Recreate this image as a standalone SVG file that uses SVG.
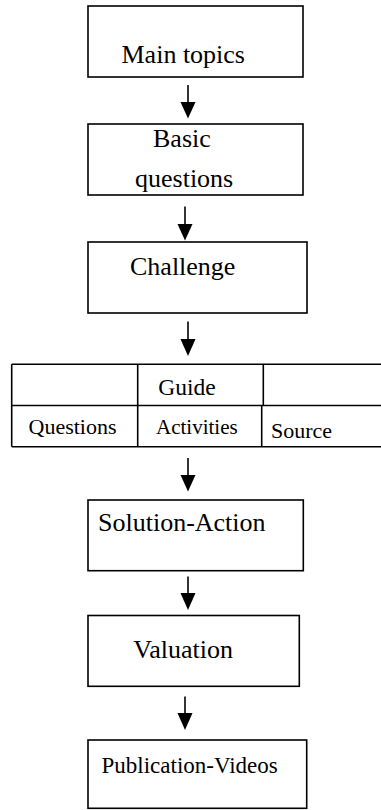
<svg xmlns="http://www.w3.org/2000/svg" width="381" height="810" viewBox="0 0 381 810">
<defs>
<style>
.box{fill:#fff;stroke:#000;stroke-width:1.6}
.t{font-family:"Liberation Serif","Times New Roman",serif;fill:#000}
.c{stroke:#000;stroke-width:1.6;fill:none}
.cell{fill:none;stroke:#000;stroke-width:1.6}
.ah{fill:#000}
</style>
</defs>
<rect width="381" height="810" fill="#fff"/>
<g id="connectors">
<line class="c" x1="188" y1="85" x2="188" y2="104"/><polygon class="ah" points="180.5,102 195.5,102 188,118.5"/>
<line class="c" x1="185" y1="206.5" x2="185" y2="226"/><polygon class="ah" points="177.5,224 192.5,224 185,240.5"/>
<line class="c" x1="188" y1="321.5" x2="188" y2="341"/><polygon class="ah" points="180.5,339 195.5,339 188,356"/>
<line class="c" x1="188" y1="458" x2="188" y2="477"/><polygon class="ah" points="180.5,475 195.5,475 188,491.5"/>
<line class="c" x1="188" y1="576.5" x2="188" y2="595"/><polygon class="ah" points="180.5,593 195.5,593 188,610"/>
<line class="c" x1="185" y1="696.5" x2="185" y2="715"/><polygon class="ah" points="177.5,713 192.5,713 185,730"/>
</g>
<g id="main-topics">
<rect class="box" x="88" y="6" width="215" height="71"/>
<text class="t" x="121.5" y="63" font-size="26">Main topics</text>
</g>
<g id="basic-questions">
<rect class="box" x="88" y="124" width="215" height="71"/>
<text class="t" x="153" y="146.5" font-size="26">Basic</text>
<text class="t" x="135" y="186.5" font-size="26">questions</text>
</g>
<g id="challenge">
<rect class="box" x="88" y="242" width="219" height="71"/>
<text class="t" x="130" y="275" font-size="26">Challenge</text>
</g>
<g id="guide-table">
<line class="cell" x1="11.7" y1="364.3" x2="381" y2="364.3"/>
<line class="cell" x1="11.7" y1="405.5" x2="381" y2="405.5"/>
<line class="cell" x1="11.7" y1="446.7" x2="381" y2="446.7"/>
<line class="cell" x1="11.7" y1="364.3" x2="11.7" y2="446.7"/>
<line class="cell" x1="137.7" y1="364.3" x2="137.7" y2="446.7"/>
<line class="cell" x1="263.3" y1="364.3" x2="263.3" y2="405.5"/>
<line class="cell" x1="261.7" y1="405.5" x2="261.7" y2="446.7"/>
<text class="t" x="158.3" y="395" font-size="23.5">Guide</text>
<text class="t" x="28.5" y="434" font-size="22">Questions</text>
<text class="t" x="156" y="434" font-size="21">Activities</text>
<text class="t" x="271" y="438" font-size="22">Source</text>
</g>
<g id="solution-action">
<rect class="box" x="88" y="500" width="215.3" height="70.7"/>
<text class="t" x="98" y="530.7" font-size="26">Solution-Action</text>
</g>
<g id="valuation">
<rect class="box" x="88" y="615.5" width="211.3" height="70.8"/>
<text class="t" x="133.3" y="658.3" font-size="26">Valuation</text>
</g>
<g id="publication-videos">
<rect class="box" x="88" y="740" width="218.7" height="68.3"/>
<text class="t" x="101.5" y="773" font-size="23">Publication-Videos</text>
</g>
</svg>
